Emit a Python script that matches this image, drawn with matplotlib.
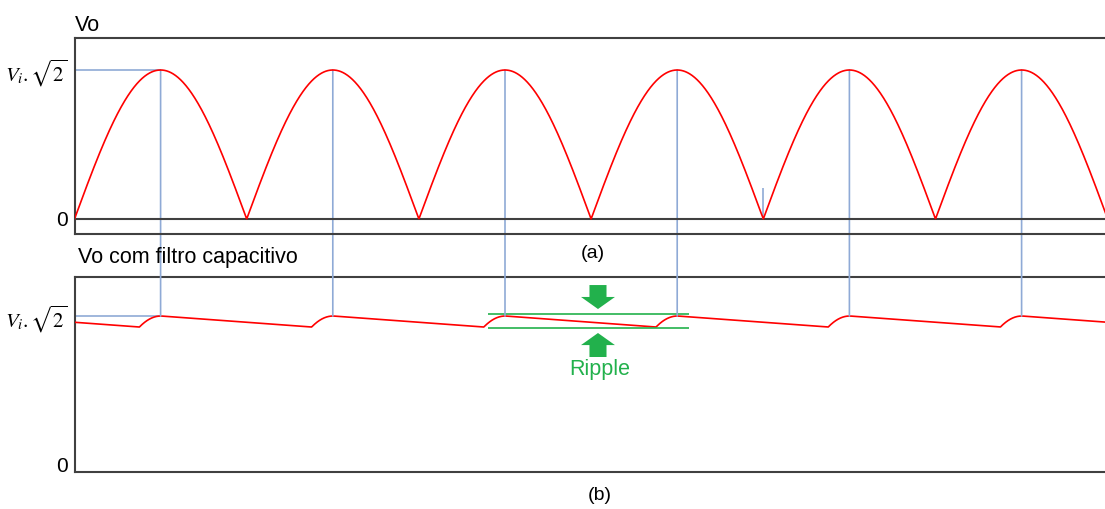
import numpy as np
import matplotlib
matplotlib.use("Agg")
import matplotlib.pyplot as plt
from matplotlib.patches import ConnectionPatch, FancyArrow

plt.rcParams["font.family"] = ["Liberation Sans", "DejaVu Sans"]
plt.rcParams["mathtext.fontset"] = "stix"

# waveform description (time in half-periods of the mains, amplitude per unit of Vi*sqrt(2))
n_half = 6.2
peak_times = [0.5, 1.5, 2.5, 3.5, 4.5, 5.5]
peak_value = 1.0
discharge_slope = 0.0845       # capacitor discharge per half-period
ripple_top, ripple_bottom = 1.013, 0.919
ripple_span = (2.40, 3.57)
ytick_labels = ["0", r"$V_i.\sqrt{2}$"]

RED = "#ff0000"
BLUE = "#8faad6"
GREEN = "#22b14c"
SPINE = "#404040"

# rectified output
t = np.linspace(0, n_half, 3000)
vo = peak_value * np.abs(np.sin(np.pi * t))

# filtered output: follows the rectified wave while charging, decays otherwise
tf = np.linspace(-0.5, n_half, 4000)
rect = peak_value * np.abs(np.sin(np.pi * tf))
vf = np.empty_like(tf)
vf[0] = peak_value
for i in range(1, len(tf)):
    vf[i] = max(rect[i], vf[i - 1] - discharge_slope * (tf[i] - tf[i - 1]))
keep = tf >= 0
tf, vf = tf[keep], vf[keep]

fig = plt.figure(figsize=(11.05, 5.09), dpi=100)
W, H = 1105, 509
left, width = 74.5 / W, 6.2 * 172.2 / W
ax1 = fig.add_axes([left, (H - 234) / H, width, 196 / H], zorder=2)
ax2 = fig.add_axes([left, (H - 472) / H, width, 195 / H], zorder=0)
ax1.set_facecolor("none")

for ax, ylim in ((ax1, (-0.1007, 1.2148)), (ax2, (-0.047, 1.262))):
    ax.set_xlim(0, n_half)
    ax.set_ylim(*ylim)
    ax.set_xticks([])
    ax.set_yticks([0, peak_value])
    ax.set_yticklabels(ytick_labels)
    ax.tick_params(axis="y", length=0, pad=5, labelsize=15)
    for s in ax.spines.values():
        s.set_color(SPINE)
        s.set_linewidth(1.5)
    ax.spines["right"].set_visible(False)

ax1.axhline(0, color=SPINE, lw=1.5, zorder=1)
ax1.plot(t, vo, color=RED, lw=1.2, zorder=3)
ax1.hlines(peak_value, 0, peak_times[0], color=BLUE, lw=1.2, zorder=2)
ax1.vlines(4.0, 0, 0.208, color=BLUE, lw=1.2, zorder=2)

ax2.plot(tf, vf, color=RED, lw=1.2, zorder=3)
ax2.hlines(peak_value, 0, peak_times[0], color=BLUE, lw=1.2, zorder=2)

# peak markers running from the upper plot into the lower one
for tp in peak_times:
    con = ConnectionPatch(xyA=(tp, peak_value), coordsA=ax1.transData,
                          xyB=(tp, peak_value), coordsB=ax2.transData,
                          color=BLUE, lw=1.2, zorder=1)
    fig.add_artist(con)

# ripple band and arrows
ax2.hlines([ripple_top, ripple_bottom], *ripple_span, color=GREEN, lw=1.2, zorder=4)
xa = 3.04
ax2.add_patch(FancyArrow(xa, 1.208, 0, -(1.208 - 1.047), width=0.099, head_width=0.197,
                         head_length=0.081, length_includes_head=True, color=GREEN, lw=0))
ax2.add_patch(FancyArrow(xa, 0.725, 0, 0.886 - 0.725, width=0.099, head_width=0.197,
                         head_length=0.081, length_includes_head=True, color=GREEN, lw=0))
ax2.text(xa + 0.01, 0.638, "Ripple", color=GREEN, fontsize=15.5, ha="center", va="center")

fig.text(75 / W, 1 - 31 / H, "Vo", fontsize=15.5, ha="left", va="baseline")
fig.text(78 / W, 1 - 263 / H, "Vo com filtro capacitivo", fontsize=15.5, ha="left", va="baseline")
fig.text(593 / W, 1 - 254 / H, "(a)", fontsize=14, ha="center", va="center")
fig.text(600 / W, 1 - 495 / H, "(b)", fontsize=14, ha="center", va="center")

fig.savefig("out.png", dpi=100)
